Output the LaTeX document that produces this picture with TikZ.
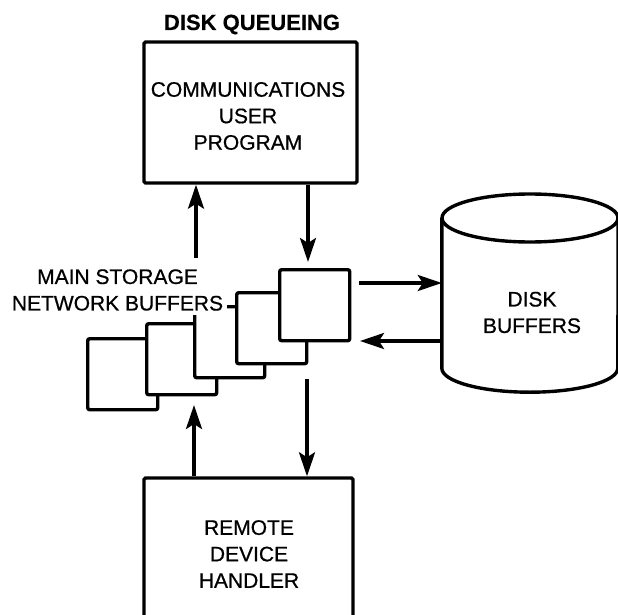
\documentclass[tikz,border=0pt]{standalone}
\usepackage{fontspec}
\setmainfont{Liberation Sans}[FakeBold=0.6]
\newfontfamily\titlefont{Liberation Sans}[FakeBold=0.3]
\usetikzlibrary{arrows.meta}
\begin{document}
\begin{tikzpicture}[x=1pt,y=-1pt,
  lbl/.style={font=\fontsize{21}{26.5}\selectfont, align=center, inner sep=0pt},
  bigbox/.style={draw, line width=3.4pt, rounded corners=1.5pt, inner sep=0pt},
  buf/.style={draw, fill=white, line width=3.4pt, rounded corners=2pt, minimum width=70pt, minimum height=71pt, anchor=north west, inner sep=0pt},
  arr/.style={line width=3.4pt, -{Stealth[length=24pt,width=16pt,inset=5pt]}},
  cyl/.style={line width=3.4pt},
]
\useasboundingbox (0,0) rectangle (618,615);

% title
\node[font=\titlefont\fontsize{22}{26}\selectfont\bfseries, anchor=base, inner sep=0pt] (title) at (252,30) {DISK QUEUEING};

% communications user program
\node[bigbox, minimum width=213pt, minimum height=141pt] (cup) at (250.5,112.5) {};
\node[lbl] (cuptext) at (248,116) {COMMUNICATIONS\\USER\\PROGRAM};

% remote device handler
\node[bigbox, minimum width=209pt, minimum height=152pt] (rdh) at (248.5,554) {};
\node[lbl] (rdhtext) at (249,554) {REMOTE\\DEVICE\\HANDLER};

% buffers
\node[buf] (b0) at (86,337) {};
\node[buf] (b1) at (145,322) {};
\node[buf] (b2) at (193,305) {};
\node[buf] (b3) at (235,291) {};
\node[buf] (b4) at (278,268) {};
\node[lbl, fill=white, inner sep=4pt] (buflabel) at (117.5,290) {MAIN STORAGE\\NETWORK BUFFERS};

% disk
\node[minimum width=176pt, minimum height=150pt, inner sep=0pt] (disk) at (530,293) {};
\draw[cyl] (530,218) ellipse [x radius=88, y radius=24];
\draw[cyl] (disk.north west) -- (disk.south west) arc[start angle=180, end angle=0, x radius=88, y radius=24] -- (disk.north east);
\node[lbl] (disktext) at (532,312.5) {DISK\\BUFFERS};

% arrows
\coordinate (u1) at (196,258);
\coordinate (d1) at (308,262);
\coordinate (u2) at (194,405);
\coordinate (d2) at (307,379);
\coordinate (r1) at (359,283);
\coordinate (l1) at (360,341);
\draw[arr] (u1) -- (cup.south -| u1);
\draw[arr] (cup.south -| d1) -- (d1);
\draw[arr] (rdh.north -| u2) -- (u2);
\draw[arr] (d2) -- (rdh.north -| d2);
\draw[arr] (r1) -- (disk.west |- r1);
\draw[arr] (disk.west |- l1) -- (l1);
\end{tikzpicture}
\end{document}
